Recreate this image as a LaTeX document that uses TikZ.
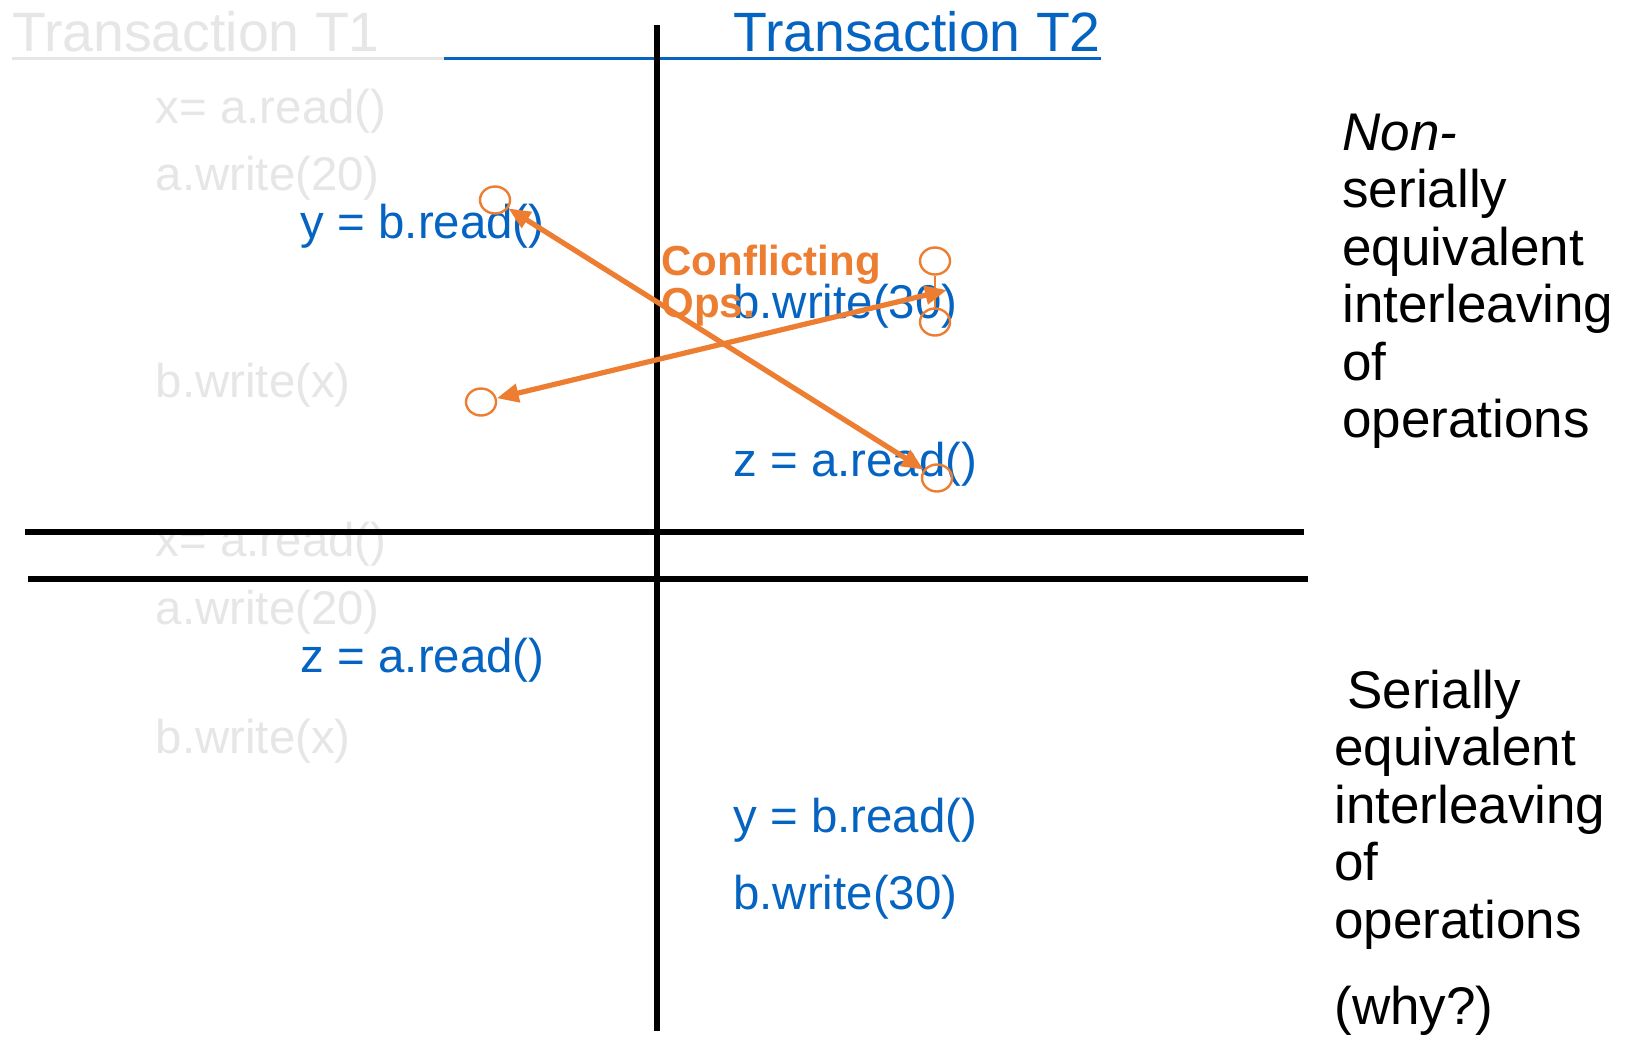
\documentclass[tikz,border=0pt]{standalone}
\usepackage{fontspec}
\setmainfont{Liberation Sans}
\usepackage{xcolor}
\usetikzlibrary{positioning, arrows.meta, shapes.geometric}
\definecolor{tblue}{HTML}{0563C1}
\definecolor{tgray}{HTML}{E7E6E6}
\definecolor{torange}{HTML}{ED7D31}
\tikzset{
    title/.style={anchor=base west, inner sep=0pt, font=\fontsize{27.7}{33}\selectfont},
    optext/.style={anchor=base west, inner sep=0pt, font=\fontsize{23.7}{28}\selectfont},
    conflict/.style={anchor=base west, inner sep=0pt, text=torange, font=\bfseries\fontsize{21}{25}\selectfont},
    note/.style={anchor=base west, inner sep=0pt, font=\fontsize{26.5}{32}\selectfont},
    grid/.style={line width=2.6pt, black},
    ring/.style={ellipse, draw=torange, line width=1.2pt, minimum width=15pt, minimum height=13.5pt, inner sep=0pt},
    arr/.style={draw=torange, line width=2.6pt, >={Triangle[length=11pt,width=9pt]}, <->}
}

\begin{document}
\begin{tikzpicture}[x=0.5pt, y=-0.5pt]
        \fill[white] (0,0) rectangle (1625,1038);
        \useasboundingbox (0,0) rectangle (1625,1038);

        % ==========================================
        % Headings
        % ==========================================
        \node[title, text=tgray] (t1) at (12,52) {Transaction T1};
        \node[title, text=tblue] (t2) at (733,52) {Transaction T2};
        \draw[tgray, line width=1.5pt] (12,59) -- (444,59);
        \draw[tblue, line width=1.5pt] (444,59) -- (1101,59);

        % ==========================================
        % Non-serial interleaving (top)
        % ==========================================
        \node[optext, text=tgray] (xa) at (155.5,123) {x= a.read()};
        \node[optext, text=tgray] (aw) at (155.5,190) {a.write(20)};
        \node[optext, text=tblue] (yb) at (300.5,238) {y = b.read()};
        \node[optext, text=tgray] (bx) at (155.5,397) {b.write(x)};
        \node[optext, text=tblue] (bw) at (733,318) {b.write(30)};
        \node[optext, text=tblue] (za) at (733,476) {z = a.read()};

        \node[conflict] (conf) at (661,275) {Conflicting};
        \node[conflict] (ops) at (661,317) {Ops.};

        % ==========================================
        % Serial interleaving (bottom)
        % ==========================================
        \node[optext, text=tgray] (xa2) at (155.5,556) {x= a.read()};
        \node[optext, text=tgray] (aw2) at (155.5,624.5) {a.write(20)};
        \node[optext, text=tblue] (za2) at (300.5,672) {z = a.read()};
        \node[optext, text=tgray] (bx2) at (155.5,753) {b.write(x)};
        \node[optext, text=tblue] (yb2) at (733,832) {y = b.read()};
        \node[optext, text=tblue] (bw2) at (733,909) {b.write(30)};

        % ==========================================
        % Dividers
        % ==========================================
        \draw[grid] (657,25) -- (657,1031);
        \draw[grid] (25,532) -- (1304,532);
        \draw[grid] (28,579) -- (1308,579);

        % ==========================================
        % Side notes
        % ==========================================
        \foreach \txt [count=\i] in {{\textit{Non-}}, serially, equivalent, interleaving, of, operations}
            \node[note] (ns\i) at (1342,{150+57.5*(\i-1)}) {\txt};
        \node[note] (se1) at (1347,708) {Serially};
        \foreach \txt [count=\i from 2] in {equivalent, interleaving, of, operations}
            \node[note] (se\i) at (1334,{708+57.5*(\i-1)}) {\txt};
        \node[note] (why) at (1334,1024) {(why?)};

        % ==========================================
        % Conflicting operations
        % ==========================================
        \node[ring] (c1) at (495,200) {};
        \node[ring] (c2) at (935,261) {};
        \node[ring] (c3) at (935,322) {};
        \node[ring] (c4) at (481,402) {};
        \node[ring] (c5) at (937,478) {};
        \coordinate (bt) at (947,290);

        \draw[torange, line width=0.8pt] (c2) -- (c3);
        \draw[arr] (c1) -- (c5);
        \draw[arr] (c4) -- (bt);

\end{tikzpicture}
\end{document}
